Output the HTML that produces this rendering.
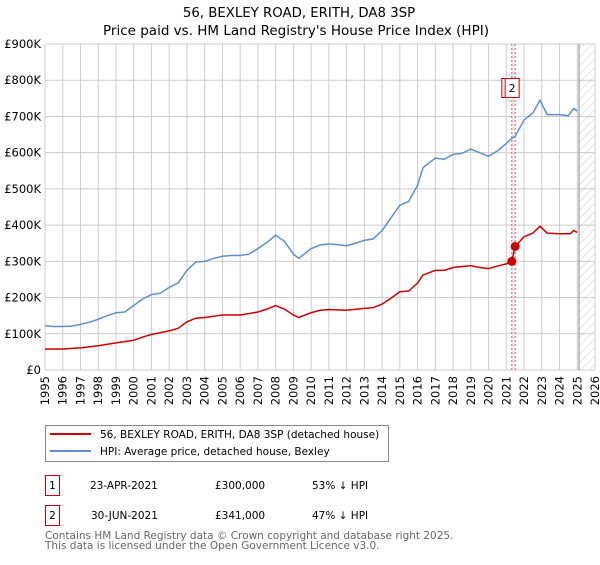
<!DOCTYPE html>
<html><head><meta charset="utf-8"><style>
body{margin:0;background:#fff;font-family:"Liberation Sans","DejaVu Sans",sans-serif;}
svg text{font-family:"DejaVu Sans","Liberation Sans",sans-serif;}
</style></head><body>
<svg id="c" width="600" height="560" viewBox="0 0 600 560" xmlns="http://www.w3.org/2000/svg">
<defs><pattern id="hatch" width="6" height="6" patternUnits="userSpaceOnUse" patternTransform="rotate(45)"><line x1="0" y1="0" x2="0" y2="6" stroke="#bbb" stroke-width="0.8"/></pattern></defs>
<text x="299" y="17" text-anchor="middle" font-size="13.3">56, BEXLEY ROAD, ERITH, DA8 3SP</text>
<text x="296" y="35" text-anchor="middle" font-size="13.5">Price paid vs. HM Land Registry's House Price Index (HPI)</text>
<g id="grid"></g><g id="marks"></g>
<g>
<rect x="45.5" y="425.5" width="343" height="36" fill="#fff" stroke="#888"/>
<line x1="50" y1="434" x2="91" y2="434" stroke="#cc0000" stroke-width="2"/>
<text x="100" y="438" font-size="10.5">56, BEXLEY ROAD, ERITH, DA8 3SP (detached house)</text>
<line x1="50" y1="451" x2="91" y2="451" stroke="#5b8fd4" stroke-width="2"/>
<text x="100" y="455" font-size="10.5">HPI: Average price, detached house, Bexley</text>
</g>
<g font-size="10.5">
<rect x="45.5" y="475.5" width="14" height="20" fill="none" stroke="#cc0000"/>
<text x="52.5" y="489" text-anchor="middle">1</text>
<text x="90" y="489">23-APR-2021</text>
<text x="215" y="489">£300,000</text>
<text x="312" y="489">53% ↓ HPI</text>
<rect x="45.5" y="505.5" width="14" height="20" fill="none" stroke="#cc0000"/>
<text x="52.5" y="519" text-anchor="middle">2</text>
<text x="91" y="519">30-JUN-2021</text>
<text x="215" y="519">£341,000</text>
<text x="312" y="519">47% ↓ HPI</text>
</g>
<text x="45" y="539" font-size="10.5" fill="#666">Contains HM Land Registry data © Crown copyright and database right 2025.</text>
<text x="45" y="549" font-size="10.5" fill="#666">This data is licensed under the Open Government Licence v3.0.</text>
</svg>
<script>
const yearTicks=[1995,1996,1997,1998,1999,2000,2001,2002,2003,2004,2005,2006,2007,2008,2009,2010,2011,2012,2013,2014,2015,2016,2017,2018,2019,2020,2021,2022,2023,2024,2025,2026];
const valueTicks=[0,100,200,300,400,500,600,700,800,900];
const valueLabels=["£0","£100K","£200K","£300K","£400K","£500K","£600K","£700K","£800K","£900K"];
const hpiT=[1995,1995.5,1996,1996.5,1997,1997.5,1998,1998.5,1999,1999.5,2000,2000.5,2001,2001.5,2002,2002.5,2003,2003.5,2004,2004.5,2005,2005.5,2006,2006.5,2007,2007.5,2008,2008.5,2009,2009.3,2009.6,2010,2010.5,2011,2011.5,2012,2012.5,2013,2013.5,2014,2014.5,2015,2015.5,2016,2016.3,2016.6,2017,2017.5,2018,2018.5,2019,2019.5,2020,2020.5,2021,2021.3,2021.5,2022,2022.5,2022.9,2023.3,2024,2024.5,2024.8,2025];
const hpiV=[122,120,120,121,126,132,140,150,158,160,178,196,208,212,228,240,275,298,300,308,314,316,316,320,335,352,372,355,320,308,320,335,345,348,346,343,350,358,362,385,420,455,465,510,558,570,585,582,595,598,610,600,590,605,625,640,645,690,710,745,705,705,702,722,715];
const redT=[1995,1996,1997,1998,1999,2000,2000.5,2001,2002,2002.5,2003,2003.5,2004,2005,2006,2007,2007.5,2008,2008.5,2009,2009.3,2010,2010.5,2011,2012,2013,2013.5,2014,2014.5,2015,2015.5,2016,2016.3,2017,2017.5,2018,2019,2019.5,2020,2020.5,2021,2021.31,2021.5,2022,2022.5,2022.9,2023.3,2024,2024.6,2024.8,2025];
const redV=[58,58,61,67,75,82,91,98,108,115,133,143,145,152,152,160,168,178,168,152,145,158,165,167,165,170,172,182,198,216,218,240,262,275,275,283,288,283,280,287,293,300,341,368,378,397,378,376,376,385,380];
const saleT=[2021.31,2021.5];
const saleV=[300,341];
const saleLabels=["1","2"];
const X0=45,X1=595,Y0=370,Y1=44;
const xs=t=>X0+(t-1995)/(2026-1995)*(X1-X0);
const ys=v=>Y0-v/900*(Y0-Y1);
const NS="http://www.w3.org/2000/svg";
function mk(tag,attrs,parent){const e=document.createElementNS(NS,tag);for(const k in attrs)e.setAttribute(k,attrs[k]);parent.appendChild(e);return e;}
const g=document.getElementById('grid'),m=document.getElementById('marks');
yearTicks.forEach(y=>{const l=mk('line',{x1:xs(y),x2:xs(y),y1:Y1,y2:Y0,stroke:'#ccc'},g);


const t=mk('text',{x:0,y:0,'font-size':11.5,'text-anchor':'end',transform:`translate(${xs(y)+4},${Y0+6}) rotate(-90)`},g);t.textContent=y;

});
valueTicks.forEach((v,i)=>{const l=mk('line',{x1:X0,x2:X1,y1:ys(v),y2:ys(v),stroke:'#ccc'},g);


const t=mk('text',{x:41,y:ys(v)+4,'font-size':11.5,'text-anchor':'end'},g);t.textContent=valueLabels[i];

});
const h=mk('rect',{x:xs(2025.1),y:Y1,width:X1-xs(2025.1),height:Y0-Y1,fill:'url(#hatch)'},m);


const hl=mk('line',{x1:xs(2025.1),x2:xs(2025.1),y1:Y1,y2:Y0,stroke:'#999','stroke-width':1.2},m);


const band=mk('rect',{x:xs(saleT[0]),y:Y1,width:xs(saleT[1])-xs(saleT[0]),height:Y0-Y1,fill:'#e6eefa'},m);


saleT.forEach((t,i)=>{const l=mk('line',{x1:xs(t),x2:xs(t),y1:Y1,y2:Y0,stroke:'#ee5555','stroke-dasharray':'2,2'},m);

});
const hp=mk('polyline',{points:hpiT.map((t,i)=>xs(t)+','+ys(hpiV[i])).join(' '),fill:'none',stroke:'#5b8fd4','stroke-width':1.5},m);


const rp=mk('polyline',{points:redT.map((t,i)=>xs(t)+','+ys(redV[i])).join(' '),fill:'none',stroke:'#cc0000','stroke-width':1.5},m);


saleT.forEach((t,i)=>{const c=mk('circle',{cx:xs(t),cy:ys(saleV[i]),r:4.5,fill:'#cc0000'},m);


const bx=xs(t)-10;
const r=mk('rect',{x:bx,y:78.5,width:14,height:19,fill:'#fff',stroke:'#cc0000'},m);


const tx=mk('text',{x:bx+7,y:92,'font-size':11,'text-anchor':'middle'},m);tx.textContent=saleLabels[i];

});
</script>
</body></html>
